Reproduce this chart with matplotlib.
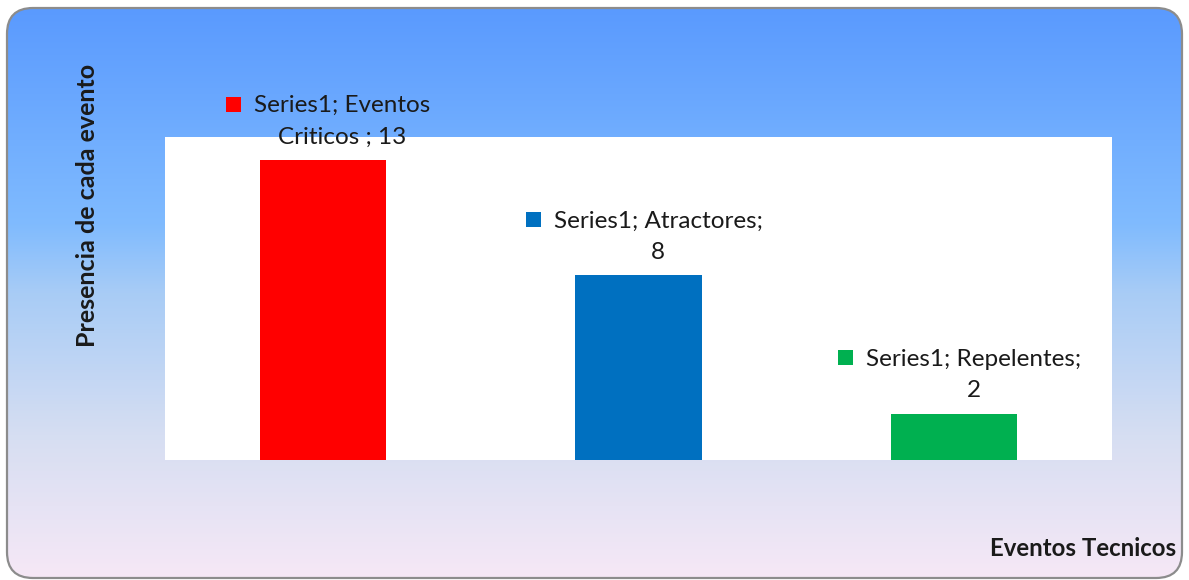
import numpy as np
import matplotlib
matplotlib.use("Agg")
import matplotlib.pyplot as plt
from matplotlib.patches import FancyBboxPatch, Rectangle
from matplotlib.colors import LinearSegmentedColormap

# Chart data
categories = ["Eventos\nCriticos ", "Atractores", "Repelentes"]
series_name = "Series1"
values = [13, 8, 2]
bar_colors = ["#FF0000", "#0070C0", "#00B050"]
x_title = "Eventos Tecnicos"
y_title = "Presencia de cada evento"

FONT = "Lato"
W, H, DPI = 1189, 580, 100
fig = plt.figure(figsize=(W / DPI, H / DPI), dpi=DPI, facecolor="white")

# Rounded chart frame with vertical gradient fill
bg = fig.add_axes([0, 0, 1, 1], zorder=0)
bg.set_xlim(0, W)
bg.set_ylim(0, H)
bg.axis("off")
grad_cmap = LinearSegmentedColormap.from_list(
    "frame",
    [(0.0, "#F6E8F6"), (0.25, "#D6DEF2"), (0.5, "#A8CCF6"),
     (0.62, "#80BBFE"), (1.0, "#5A9AFF")],
)
grad = np.linspace(0, 1, 256).reshape(-1, 1)
frame = FancyBboxPatch((7, 2), W - 14, H - 10,
                       boxstyle="round,pad=0,rounding_size=26",
                       facecolor="none", edgecolor="#8C8C8C", linewidth=1.6,
                       zorder=3)
img = bg.imshow(grad, cmap=grad_cmap, origin="lower", aspect="auto",
                extent=(7, W - 7, 2, H - 8), zorder=1)
img.set_clip_path(frame)
bg.add_patch(frame)

# Plot area
ax = fig.add_axes([165 / W, (H - 460) / H, (1112 - 165) / W, (460 - 137) / H],
                  zorder=2)
ax.set_facecolor("white")
xpos = np.arange(len(values))
ax.bar(xpos, values, width=0.40, color=bar_colors, zorder=2)
ax.set_xlim(-0.5, len(values) - 0.5)
ax.set_ylim(0, 14)
ax.set_xticks([])
ax.set_yticks([])
for s in ax.spines.values():
    s.set_visible(False)

# Data labels with legend keys
fig.canvas.draw()
renderer = fig.canvas.get_renderer()
for i, (cat, val, col) in enumerate(zip(categories, values, bar_colors)):
    if "\n" in cat:
        label = f"{series_name}; {cat}; {val}"
    else:
        label = f"{series_name}; {cat};\n{val}"
    t = ax.annotate(label, xy=(i, val), xytext=(14, 9),
                    textcoords="offset points", ha="center", va="bottom",
                    fontsize=17.5, family=FONT, color="#1A1A1A",
                    linespacing=1.62, annotation_clip=False, zorder=5)
    bb = t.get_window_extent(renderer)
    # key square to the left of the first line
    sq = 15
    x0 = bb.x0 - 13 - sq
    line_h = bb.height / 2
    yc = bb.y1 - line_h / 2 + 4
    fig.patches.append(Rectangle((x0 / W, (yc - sq / 2) / H), sq / W, sq / H,
                                 transform=fig.transFigure, facecolor=col,
                                 edgecolor="none", zorder=5))

# Axis titles
fig.text(88 / W, 1 - 205 / H, y_title, rotation=90, ha="center", va="center",
         fontsize=18, fontweight="bold", family=FONT, color="#1A1A1A")
fig.text(1176 / W, 1 - 548 / H, x_title, ha="right", va="center",
         fontsize=17.3, fontweight="bold", family=FONT, color="#1A1A1A")

fig.savefig("out.png", dpi=DPI, facecolor="white")
